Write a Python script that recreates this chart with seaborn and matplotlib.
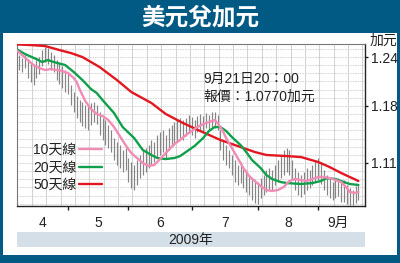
import matplotlib
matplotlib.use("Agg")
import matplotlib.pyplot as plt
import seaborn as sns
import numpy as np
import pandas as pd
from matplotlib.patches import Rectangle
from matplotlib.font_manager import FontProperties
from matplotlib.lines import Line2D

# ---------------- data ----------------
dates = pd.bdate_range("2009-04-06", "2009-09-21")
highs = [
    1.251, 1.246, 1.243, 1.239, 1.243,
    1.236, 1.234, 1.230, 1.236, 1.240,
    1.249, 1.252, 1.251, 1.246, 1.243,
    1.236, 1.233, 1.229, 1.224, 1.222,
    1.206, 1.197, 1.192, 1.187, 1.185,
    1.181, 1.180, 1.184, 1.185, 1.181,
    1.173, 1.165, 1.163, 1.157, 1.150,
    1.141, 1.136, 1.132, 1.126, 1.128,
    1.116, 1.111, 1.108, 1.114, 1.120,
    1.126, 1.128, 1.132, 1.138, 1.136,
    1.144, 1.148, 1.150, 1.144, 1.153,
    1.157, 1.160, 1.163, 1.165, 1.163,
    1.165, 1.169, 1.166, 1.163, 1.168,
    1.170, 1.168, 1.171, 1.169, 1.173,
    1.173, 1.169, 1.150, 1.138, 1.132,
    1.126, 1.120, 1.114, 1.108, 1.111,
    1.104, 1.101, 1.095, 1.092, 1.089,
    1.087, 1.092, 1.095, 1.101, 1.104,
    1.101, 1.108, 1.114, 1.120, 1.126,
    1.128, 1.126, 1.114, 1.104, 1.099,
    1.095, 1.099, 1.104, 1.101, 1.108,
    1.114, 1.116, 1.111, 1.101, 1.095,
    1.092, 1.087, 1.089, 1.092, 1.087,
    1.089, 1.083, 1.079, 1.077, 1.082,
    1.083]
lows = [
    1.234, 1.230, 1.224, 1.222, 1.227,
    1.214, 1.209, 1.206, 1.214, 1.219,
    1.229, 1.234, 1.231, 1.224, 1.222,
    1.212, 1.207, 1.202, 1.197, 1.195,
    1.181, 1.173, 1.165, 1.160, 1.155,
    1.153, 1.150, 1.157, 1.160, 1.158,
    1.144, 1.138, 1.132, 1.128, 1.123,
    1.114, 1.108, 1.104, 1.099, 1.101,
    1.087, 1.079, 1.077, 1.083, 1.092,
    1.095, 1.099, 1.104, 1.108, 1.111,
    1.116, 1.120, 1.123, 1.116, 1.126,
    1.130, 1.132, 1.136, 1.141, 1.138,
    1.143, 1.147, 1.144, 1.141, 1.148,
    1.150, 1.148, 1.153, 1.149, 1.154,
    1.153, 1.150, 1.126, 1.114, 1.108,
    1.104, 1.095, 1.087, 1.083, 1.085,
    1.079, 1.074, 1.071, 1.065, 1.061,
    1.060, 1.067, 1.071, 1.074, 1.077,
    1.077, 1.083, 1.087, 1.092, 1.095,
    1.099, 1.095, 1.089, 1.077, 1.071,
    1.068, 1.072, 1.077, 1.079, 1.083,
    1.087, 1.089, 1.084, 1.077, 1.071,
    1.067, 1.065, 1.067, 1.070, 1.062,
    1.062, 1.060, 1.059, 1.058, 1.061,
    1.065]

ma10_bar = [1, 3, 5, 7, 9, 11, 13, 15, 17, 19, 21, 22, 23, 25, 27, 29, 31, 33, 35, 37,
            39, 41, 43, 45, 47, 49, 50, 52, 54, 56, 58, 60, 62, 64, 66, 68, 70, 71, 72, 73,
            74, 76, 78, 80, 82, 84, 86, 88, 90, 92, 94, 96, 98, 100, 102, 104, 106, 108, 110, 112,
            114, 116, 117, 119, 120]
ma10 = [1.2486, 1.2425, 1.2363, 1.2302, 1.2265, 1.2241, 1.2253, 1.2241, 1.2228, 1.2204,
        1.2142, 1.2093, 1.2007, 1.1860, 1.1762, 1.1701, 1.1676, 1.1627, 1.1541, 1.1431,
        1.1320, 1.1222, 1.1161, 1.1100, 1.1063, 1.1075, 1.1112, 1.1185, 1.1259, 1.1332,
        1.1382, 1.1443, 1.1492, 1.1541, 1.1578, 1.1602, 1.1627, 1.1590, 1.1541, 1.1480,
        1.1406, 1.1283, 1.1161, 1.1038, 1.0940, 1.0879, 1.0817, 1.0768, 1.0756, 1.0768,
        1.0805, 1.0879, 1.0903, 1.0891, 1.0879, 1.0903, 1.0928, 1.0928, 1.0915, 1.0891,
        1.0866, 1.0793, 1.0744, 1.0731, 1.0744]

ma20_bar = [1, 4, 8, 10, 12, 14, 18, 21, 24, 27, 29, 31, 35, 38, 42, 45, 48, 50, 53, 56,
            58, 60, 63, 66, 68, 70, 72, 74, 76, 79, 81, 83, 86, 88, 90, 93, 95, 100, 104, 107,
            109, 112, 115, 117, 120]
ma20 = [1.2498, 1.2437, 1.2375, 1.2339, 1.2363, 1.2339, 1.2302, 1.2216, 1.2118, 1.2007,
        1.1958, 1.1872, 1.1713, 1.1541, 1.1406, 1.1259, 1.1198, 1.1161, 1.1148, 1.1161,
        1.1185, 1.1234, 1.1308, 1.1406, 1.1492, 1.1541, 1.1541, 1.1492, 1.1418, 1.1320,
        1.1234, 1.1136, 1.1038, 1.0952, 1.0903, 1.0866, 1.0854, 1.0842, 1.0854, 1.0879,
        1.0915, 1.0903, 1.0866, 1.0842, 1.0830]

ma50_bar = [1, 6, 11, 16, 20, 24, 30, 36, 41, 48, 53, 59, 65, 72, 79, 84, 88, 95, 100, 106,
            110, 114, 120]
ma50 = [1.2555, 1.2547, 1.2535, 1.2486, 1.2449, 1.2400, 1.2277, 1.2118, 1.1971, 1.1836,
        1.1701, 1.1590, 1.1492, 1.1382, 1.1296, 1.1234, 1.1198, 1.1185, 1.1173, 1.1112,
        1.1050, 1.0977, 1.0879]

series_labels = ["10天線", "20天線", "50天線"]
series_colors = ["#f28cb6", "#10a04c", "#e3171f"]
month_labels = ["4", "5", "6", "7", "8", "9月"]
month_starts = ["2009-05-01", "2009-06-01", "2009-07-01", "2009-08-03", "2009-09-01"]
yticks = [1.24, 1.18, 1.11]
ytick_labels = ["1.24", "1.18", "1.11"]
title = "美元兌加元"
unit = "加元"
note_lines = ["9月21日20：00", "報價：1.0770加元"]
year_label = "2009年"

# ---------------- style ----------------
sns.set_theme(style="white")
FAM = ["Liberation Sans", "Noto Sans CJK TC", "DejaVu Sans"]
plt.rcParams["font.family"] = FAM

W, H = 400, 263
fig = plt.figure(figsize=(W / 100, H / 100), dpi=100)
fig.patch.set_facecolor("#005a84")


def fx(px):
    return px / W


def fy(py):
    return 1 - py / H


# white panel
fig.patches.append(Rectangle((fx(3), fy(255)), fx(394), 222 / H, transform=fig.transFigure,
                             facecolor="white", edgecolor="none", zorder=-2))
# year band
fig.patches.append(Rectangle((fx(17), fy(247)), fx(348), 15 / H, transform=fig.transFigure,
                             facecolor="#d4dfe8", edgecolor="none", zorder=-1))
fig.text(fx(191), fy(240), year_label, ha="center", va="center", fontsize=10,
         color="#222222", family=FAM)
fig.text(0.5, fy(17), title, ha="center", va="center", fontsize=17, fontweight="bold",
         color="white", family=["Noto Sans CJK TC"])
fig.text(fx(383), fy(41), unit, ha="center", va="center", fontsize=10, color="#222222",
         family=["Noto Sans CJK TC"])

ax = fig.add_axes([fx(17), fy(206), fx(348), 162 / H])
ax.set_zorder(5)
ax.set_facecolor("white")

n = len(dates)
bar_idx = np.arange(n)
xlim = (1.25, 122.3)
ylim = (1.0572, 1.256)

# grid
for gx in np.arange(1.4, xlim[1], 5):
    ax.axvline(gx, color="#cacaca", lw=0.6, zorder=0)
for gy in np.arange(1.06, 1.256, 0.01):
    ax.axhline(gy, color="#d2d2d2", lw=0.6, ls=(0, (2, 1)), zorder=0)

# price bars
ax.vlines(bar_idx, lows, highs, color="#858585", lw=0.85, zorder=2)

# moving averages
sns.lineplot(x=ma50_bar, y=ma50, color=series_colors[2], lw=1.7, ax=ax, zorder=3)
sns.lineplot(x=ma20_bar, y=ma20, color=series_colors[1], lw=1.7, ax=ax, zorder=4)
sns.lineplot(x=ma10_bar, y=ma10, color=series_colors[0], lw=1.7, ax=ax, zorder=5)

handles = [Line2D([], [], color=c, lw=1.7) for c in series_colors]
leg = ax.legend(handles, series_labels, markerfirst=False, frameon=False, loc="upper left",
                bbox_to_anchor=((33 - 17) / 348, (206 - 143) / 162), borderpad=0,
                borderaxespad=0, handlelength=1.65, handletextpad=0.2, labelspacing=0.25,
                prop=FontProperties(family=FAM, size=10))
for t in leg.get_texts():
    t.set_color("#222222")

ax.text((203 - 17) / 348, (206 - 79) / 162, note_lines[0], transform=ax.transAxes,
        ha="left", va="center", fontsize=10, color="#222222", family=FAM)
ax.text((203 - 17) / 348, (206 - 97) / 162, note_lines[1], transform=ax.transAxes,
        ha="left", va="center", fontsize=10, color="#222222", family=FAM)

ax.set_xlim(*xlim)
ax.set_ylim(*ylim)

# x ticks: month boundaries, labels centred in each month
start_pos = [dates.get_loc(pd.Timestamp(d)) for d in month_starts]
edges = [xlim[0]] + start_pos + [n - 1]
label_pos = [(edges[k] + edges[k + 1]) / 2 for k in range(len(month_labels))]
ax.set_xticks(start_pos)
ax.set_xticklabels([])
ax.set_xticks(label_pos, minor=True)
ax.set_xticklabels(month_labels, minor=True)
ax.tick_params(axis="x", which="major", direction="out", length=3, width=1, color="#222222",
               bottom=True)
ax.tick_params(axis="x", which="minor", length=0, pad=7, labelsize=10, labelcolor="#222222")

ax.yaxis.tick_right()
ax.set_yticks(yticks)
ax.set_yticklabels(ytick_labels)
ax.tick_params(axis="y", which="major", direction="out", length=2.5, width=1, color="#222222",
               right=True, left=False, pad=1.5, labelsize=10, labelcolor="#222222")
ax.set_xlabel("")
ax.set_ylabel("")

for side in ["left", "top"]:
    ax.spines[side].set_color("#777777")
    ax.spines[side].set_linewidth(0.8)
for side in ["right", "bottom"]:
    ax.spines[side].set_color("#222222")
    ax.spines[side].set_linewidth(1.0)
ax.grid(False)

fig.savefig("out.png", dpi=100, facecolor=fig.get_facecolor())
